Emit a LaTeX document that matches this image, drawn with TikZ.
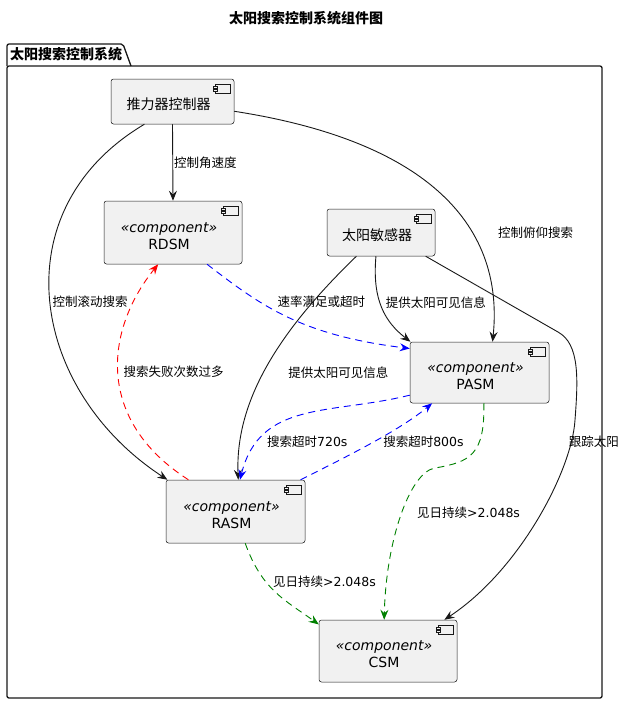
\documentclass[tikz,border=0pt]{standalone}
\usepackage{fontspec}
\setmainfont{DejaVu Sans}
\newfontfamily\cjk{Noto Sans CJK SC}
\usetikzlibrary{arrows.meta}
\definecolor{compfill}{HTML}{F1F1F1}
\definecolor{umlline}{HTML}{181818}
\definecolor{umlblue}{HTML}{0000FF}
\definecolor{umlred}{HTML}{FF0000}
\definecolor{umlgreen}{HTML}{008000}
\newcommand\stereo[1]{{\itshape «component»}\\#1}
\newcommand\boxtext[1]{\raisebox{-5pt}[\height][\depth]{\kern-8pt\begin{tabular}{@{}c@{}}#1\end{tabular}}}
\begin{document}
\begin{tikzpicture}[x=1pt, y=-1pt,
    comp/.style={draw=umlline, fill=compfill, line width=0.5pt, rounded corners=2.5pt, inner sep=0pt,
        font=\fontsize{14}{17}\selectfont,
        path picture={
            \draw[umlline, fill=compfill, line width=0.5pt, sharp corners]
                ([xshift=-19pt,yshift=-5.3pt]path picture bounding box.north east) rectangle ++(15pt,-8.5pt);
            \draw[umlline, fill=compfill, line width=0.5pt, sharp corners]
                ([xshift=-20.7pt,yshift=-7pt]path picture bounding box.north east) rectangle ++(4pt,-2pt)
                ([xshift=-20.7pt,yshift=-9.8pt]path picture bounding box.north east) rectangle ++(4pt,-2pt);
        }},
    lbl/.style={inner sep=1pt, anchor=west, text=black, font=\fontsize{12.5}{15}\selectfont},
    arrblack/.style={umlline, line width=0.9pt, -{Stealth[length=10pt,width=8pt,inset=3.5pt]}},
    arrblue/.style={arrblack, umlblue, dash pattern=on 7pt off 5pt},
    arrred/.style={arrblack, umlred, dash pattern=on 7pt off 5pt},
    arrgreen/.style={arrblack, umlgreen, dash pattern=on 7pt off 5pt}]
    \useasboundingbox (0,0) rectangle (626,704);
    % title and package
    \node[font=\fontsize{14}{17}\selectfont\cjk\bfseries] (title) at (306,18) {太阳搜索控制系统组件图};
    \draw[umlline, line width=1.3pt, rounded corners=2pt] (7,66) -- (7,44) -- (123,44) -- (131,66);
    \draw[umlline, line width=1.3pt, rounded corners=2pt] (7,66) rectangle (602,698);
    \node[font=\fontsize{14}{17}\selectfont\cjk\bfseries, anchor=west, inner sep=0pt] (pkg) at (10,54.5) {太阳搜索控制系统};
    % components
    \foreach \n/\x/\y/\w/\h/\l in {thr/172.5/101.5/123/45/{\cjk 推力器控制器},sun/381/232.5/108/47/{\cjk 太阳敏感器},rdsm/173/232.5/138/63/{\stereo{RDSM}},pasm/479.5/372.5/139/61/{\stereo{PASM}},rasm/235.5/511.5/139/63/{\stereo{RASM}},csm/388/651/138/62/{\stereo{CSM}}}{
        \node[comp, minimum width=\w, minimum height=\h] (\n) at (\x,\y) {\boxtext{\l}};
    }
    % links
    \foreach \m/\a/\b/\n/\s/\l/\t/\dx/\dy in {thr.south/thr.south/rdsm.north/rdsm.north/arrblack/{\cjk 控制角速度}/0.5/0/0,
        thr.219/{0,210}/{30,390}/rasm.155/arrblack/{\cjk 控制滚动搜索}/0.5/1/-1,
        thr.351/{420,140}/{505,220}/pasm.67/arrblack/{\cjk 控制俯仰搜索}/0.65/27/-3,
        rdsm.317/{260,305}/{300,335}/pasm.161/arrblue/{\cjk 速率满足或超时}/0.6/-30/23,
        sun.224/{280,330}/{235,400}/rasm.85/arrblack/{\cjk 提供太阳可见信息}/0.53/23/0,
        sun.258/{372,300}/{385,322}/pasm.156/arrblack/{\cjk 提供太阳可见信息}/0.45/4/1,
        rasm.146/{95,420}/{105,330}/rdsm.245/arrred/{\cjk 搜索失败次数过多}/0.51/4/0,
        pasm.198/{330,415}/{260,400}/rasm.82/arrblue/{{\cjk 搜索超时}720s}/0.8/8/0,
        rasm.26/{350,455}/{400,430}/pasm.213/arrblue/{{\cjk 搜索超时}800s}/0.5/9/0,
        rasm.287/{262,590}/{285,600}/csm.159/arrgreen/{{\cjk 见日持续}>2.048s}/0.37/5/1}{
        \draw[\s] (\m) .. controls (\a) and (\b) .. (\n) node[lbl, pos=\t, xshift=\dx, yshift=\dy] {\l};
    }
    \draw[arrblack] (sun.332) -- (558,332) .. controls (580,344) and (578,380) .. (575,420)
        .. controls (572,470) and (520,570) .. (csm.29) node[lbl, pos=0.13, xshift=-4] {\cjk 跟踪太阳};
    \draw[arrgreen] (pasm.278) .. controls (485,455) and (470,462) .. (435,468)
        .. controls (410,472) and (386,540) .. (csm.97) node[lbl, pos=0.45, xshift=12, yshift=-5] {{\cjk 见日持续}>2.048s};
\end{tikzpicture}
\end{document}
